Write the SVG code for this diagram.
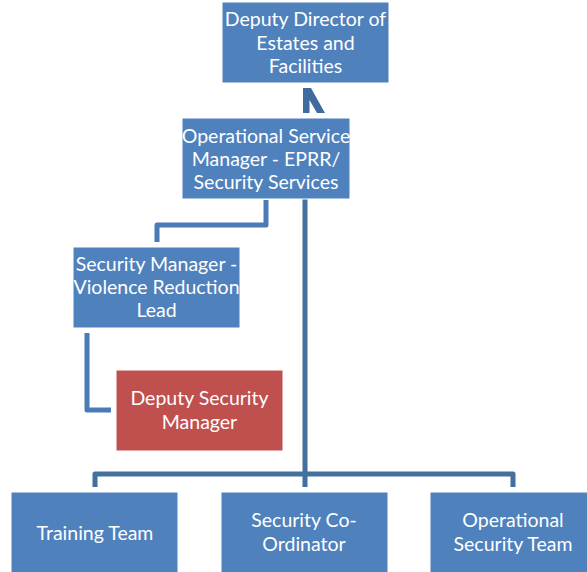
<svg xmlns="http://www.w3.org/2000/svg" width="587" height="572" viewBox="0 0 587 572">
  <style>
    .box { fill: #4F81BD; stroke: #FFFFFF; stroke-width: 1; }
    .red { fill: #C0504D; stroke: #FFFFFF; stroke-width: 1; }
    .lbl { font-family: Lato, "Liberation Sans", sans-serif; font-size: 19.5px; fill: #FFFFFF; text-anchor: middle; }
    .wire { fill: none; stroke: #41719C; stroke-width: 5; stroke-linejoin: round; }
    .wire-lt { fill: none; stroke: #4A7BB7; stroke-width: 5; stroke-linejoin: round; }
  </style>
  <rect width="587" height="572" fill="#FFFFFF"/>

  <g id="connectors">
    <!-- link up to the director -->
    <polygon points="303,88 311,88 325,113 317,113 309.5,100 309.5,113 303,113" fill="#3F6C9F"/>
    <!-- ops manager to security manager -->
    <path class="wire-lt" d="M266,200 V225 H157 V242"/>
    <!-- security manager to deputy -->
    <path class="wire-lt" d="M87,333 V410 H111"/>
    <!-- main trunk and team bus -->
    <path class="wire" d="M305,199 V487"/>
    <path class="wire" d="M95,487 V474 H513 V487"/>
  </g>

  <g id="node-director">
    <rect class="box" x="222" y="2" width="167" height="81"/>
    <text class="lbl" x="305.5" y="26">Deputy Director of</text>
    <text class="lbl" x="305.5" y="49.5">Estates and</text>
    <text class="lbl" x="305.5" y="73">Facilities</text>
  </g>

  <g id="node-ops-manager">
    <rect class="box" x="182" y="118" width="168" height="81"/>
    <text class="lbl" x="266" y="142.5">Operational Service</text>
    <text class="lbl" x="266" y="165.5">Manager - EPRR/</text>
    <text class="lbl" x="266" y="188.5">Security Services</text>
  </g>

  <g id="node-security-manager">
    <rect class="box" x="73" y="247" width="167" height="81"/>
    <text class="lbl" x="156.5" y="270.5">Security Manager -</text>
    <text class="lbl" x="156.5" y="294">Violence Reduction</text>
    <text class="lbl" x="156.5" y="317">Lead</text>
  </g>

  <g id="node-deputy-security">
    <rect class="red" x="116" y="370" width="167" height="81"/>
    <text class="lbl" x="199.5" y="405">Deputy Security</text>
    <text class="lbl" x="199.5" y="428.5">Manager</text>
  </g>

  <g id="node-training">
    <rect class="box" x="11" y="492" width="167" height="81"/>
    <text class="lbl" x="95" y="539.5">Training Team</text>
  </g>

  <g id="node-coordinator">
    <rect class="box" x="221" y="492" width="167" height="81"/>
    <text class="lbl" x="304" y="527">Security Co-</text>
    <text class="lbl" x="304" y="551">Ordinator</text>
  </g>

  <g id="node-ops-team">
    <rect class="box" x="430" y="492" width="167" height="81"/>
    <text class="lbl" x="513" y="527">Operational</text>
    <text class="lbl" x="513" y="551">Security Team</text>
  </g>
</svg>
